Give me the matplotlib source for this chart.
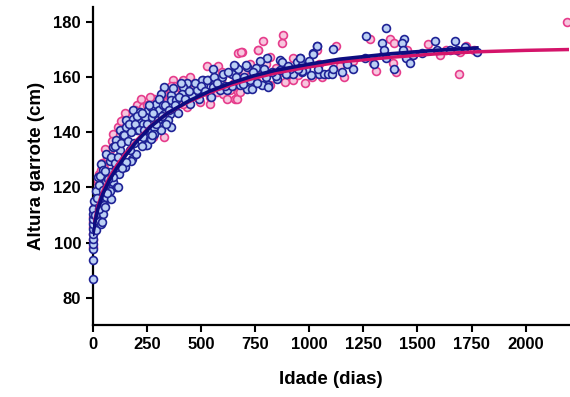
import matplotlib.pyplot as plt

plt.rcParams['font.family'] = ['Liberation Sans', 'DejaVu Sans']
plt.rcParams['font.weight'] = 'bold'

# ---------------- DATA ----------------
# group 1 (blue)
blue_days = [0, 0, 0, 0, 0, 0, 0, 0, 0, 0, 0,
             14, 22, 38, 45, 30, 22, 53, 38, 61, 30, 69, 92, 108, 84, 53,
             41, 56, 80, 95, 119, 111, 150, 182, 197, 244,
             186, 217, 256, 288, 311, 358, 155, 186, 210, 241, 272, 296, 327, 358,
             124, 155, 202, 233, 249, 296, 233, 264, 249, 108, 139, 92, 124, 170,
             178, 155, 61, 77, 38, 45, 77, 108, 22, 61, 92, 30, 116, 14,
             658, 672, 712, 642, 596, 511, 534, 511, 433, 418, 410, 330, 315, 362,
             588, 619, 642, 680, 479, 557, 268, 291, 362, 385, 449, 457, 307, 330,
             299, 346, 362, 315, 283, 283, 268,
             804, 654, 554, 600, 503, 526, 809, 781, 850, 866,
             1038, 1017, 1109, 773, 708, 754, 955, 943, 1001, 986, 896, 924, 965,
             1047, 1066, 1085, 1103, 1112, 740, 801, 847, 696, 727, 811, 714, 735,
             692, 866, 912, 965,
             1357, 1264, 1336, 1440, 1429, 1580, 1673, 1344, 1434, 1035, 1357,
             1448, 1464, 1202, 1393, 1016, 958, 893, 965, 874, 1776, 1590, 1683,
             5, 10, 18, 26, 35, 48, 58, 66, 72, 85, 100, 102, 114, 130, 135, 145,
             160, 165, 175, 190, 195, 205, 215, 225, 228, 238, 252, 260, 275, 280,
             290, 305, 318, 322, 335, 340, 350, 370, 378, 392, 400, 408, 425, 445,
             470, 490, 500, 520, 548, 560, 575, 610, 625, 660, 700, 760, 790, 830,
             900, 950, 1010, 1040, 1150, 1175, 1260, 1300, 1480, 1520, 1650, 1720]
blue_height = [86.8, 93.8, 97.7, 99.5, 101.3, 103.2, 105.0, 106.8, 108.6, 110.4, 112.3,
               104.4, 108.0, 106.8, 110.4, 112.3, 114.7, 113.5, 117.1, 116.5, 118.9, 120.1, 120.7, 120.1, 115.9, 121.3,
               107.4, 112.8, 118.9, 121.9, 125.0, 120.1, 127.4, 130.4, 132.3, 135.3,
               148.0, 147.4, 148.3, 149.2, 149.2, 150.4, 144.4, 145.0, 144.4, 145.6, 145.6, 146.2, 145.0, 146.8,
               140.7, 141.9, 140.7, 143.2, 140.7, 141.9, 138.3, 137.7, 135.3, 137.1, 138.9, 134.7, 133.5, 133.5,
               129.8, 129.2, 132.3, 129.8, 128.6, 126.2, 125.6, 127.4, 123.8, 122.5, 123.8, 120.7, 120.1, 118.9,
               164.0, 163.2, 163.8, 161.3, 160.1, 158.9, 158.9, 157.1, 157.9, 156.5, 154.1, 156.5, 154.1, 153.5,
               155.3, 155.3, 156.7, 157.1, 155.3, 156.5, 149.2, 150.4, 151.6, 151.6, 150.4, 153.1, 148.0, 146.8,
               144.4, 144.4, 141.9, 140.7, 141.9, 139.5, 137.7,
               167.2, 164.4, 163.2, 161.1, 158.9, 158.9, 157.1, 157.1, 159.5, 166.2,
               171.3, 168.8, 170.2, 165.9, 164.4, 163.5, 167.2, 165.6, 165.9, 163.2, 161.3, 161.3, 161.9,
               161.3, 161.3, 161.3, 161.3, 163.2, 161.9, 160.1, 160.4, 158.9, 159.2, 156.5, 155.9, 155.9,
               157.5, 162.8, 163.2, 164.4,
               178.1, 175.2, 172.3, 174.1, 172.3, 173.1, 173.1, 169.8, 169.8, 171.3, 167.2,
               167.2, 165.2, 163.2, 163.2, 168.6, 167.2, 161.1, 162.2, 165.6, 169.2, 170.1, 170.1,
               115.0, 110.0, 116.0, 121.0, 124.0, 119.0, 126.0, 118.0, 123.0, 131.0, 129.0, 135.0, 131.0, 136.0, 127.0, 139.0,
               137.0, 143.0, 140.0, 136.0, 143.0, 146.0, 141.0, 135.0, 147.0, 141.0, 143.0, 150.0, 139.0, 147.0,
               143.0, 152.0, 146.0, 150.0, 150.0, 143.0, 148.0, 156.0, 150.0, 147.0, 153.0, 158.0, 152.0, 155.0,
               158.0, 152.0, 157.0, 155.0, 153.0, 160.0, 158.0, 157.0, 162.0, 160.0, 160.0, 158.0, 163.0, 162.0,
               164.0, 163.0, 161.0, 163.0, 162.0, 165.0, 167.0, 165.0, 168.0, 169.0, 170.0, 171.0]

# group 2 (pink)
pink_days = [0, 0, 0, 0, 0, 0, 6, 25, 33, 64, 80, 30, 38, 69,
             202, 233, 256, 303, 343, 139, 186, 92, 116, 170, 241, 280, 327,
             526, 580, 596, 369, 374, 418, 464, 464, 672, 672, 658, 330, 322, 385,
             346, 418, 487, 572, 602, 634, 283, 330, 433, 495, 541, 541, 418, 268, 376,
             672, 688, 762, 634, 818, 885, 665,
             786, 765, 683, 847, 819, 788, 727, 1047, 696, 757, 680,
             880, 874, 1279, 1372, 1390, 1125, 1035, 924, 1140, 1295, 1310, 1387, 1403,
             1480, 1606, 1691, 1726, 1012, 1159, 888, 927, 1058, 1634, 1699, 2192,
             8, 15, 20, 42, 50, 55, 88, 100, 125, 130, 150, 160, 195, 215, 222, 250,
             262, 290, 310, 355, 362, 395, 410, 450, 480, 515, 560, 590, 620, 650,
             700, 720, 745, 800, 860, 950, 980, 1100, 1200, 1340, 1450, 1550, 1760]
pink_height = [98.3, 100.8, 103.0, 105.6, 107.5, 109.3, 111.6, 117.1, 125.0, 131.0, 133.5, 125.0, 126.2, 133.5,
               149.8, 149.2, 146.8, 151.0, 150.4, 144.4, 146.8, 139.5, 141.9, 146.8, 139.5, 138.3, 138.3,
               164.0, 164.0, 161.9, 158.9, 156.7, 159.2, 157.7, 155.9, 156.5, 154.7, 152.3, 155.9, 154.1, 154.1,
               151.6, 154.1, 154.1, 154.7, 154.1, 155.3, 152.3, 149.2, 149.2, 151.0, 150.4, 152.8, 150.4, 145.6, 148.6,
               168.8, 169.2, 170.1, 161.6, 167.5, 161.9, 152.3,
               173.1, 170.1, 169.2, 163.5, 157.1, 161.6, 165.0, 165.0, 161.3, 158.3, 154.7,
               175.3, 172.3, 174.1, 174.1, 172.3, 171.3, 170.1, 167.2, 164.1, 165.2, 162.2, 165.2, 161.9,
               168.0, 168.0, 161.1, 171.3, 160.1, 160.1, 158.3, 159.2, 160.1, 170.1, 169.2, 180.1,
               114.0, 120.0, 123.0, 129.0, 127.0, 134.0, 137.0, 135.0, 139.0, 144.0, 147.0, 141.0, 148.0, 146.0, 152.0, 150.0,
               153.0, 149.0, 145.0, 153.0, 157.0, 151.0, 155.0, 160.0, 153.0, 155.0, 158.0, 159.0, 152.0, 158.0,
               162.0, 157.0, 162.0, 165.0, 162.0, 161.0, 158.0, 162.0, 166.0, 168.0, 170.0, 172.0, 170.0]

# fitted curves
blue_fit_days = [0, 10, 22, 45, 75, 110, 150, 200, 265, 345, 445, 540, 640, 740,
                 840, 985, 1140, 1380, 1580, 1775]
blue_fit = [103.0, 107.5, 112.0, 117.5, 122.5, 127.0, 131.5, 136.5, 142.0, 147.0,
            151.5, 155.0, 158.0, 160.5, 162.5, 164.6, 166.6, 168.6, 169.8, 170.7]
pink_fit_days = [0, 10, 22, 45, 75, 110, 150, 200, 265, 345, 445, 540, 640, 740,
                 840, 985, 1140, 1380, 1580, 1780, 2000, 2195]
pink_fit = [104.0, 108.5, 113.0, 118.5, 123.5, 128.0, 132.3, 137.0, 142.2, 147.0,
            151.2, 154.5, 157.3, 159.6, 161.5, 163.6, 165.6, 167.3, 168.5, 169.3, 169.8, 170.1]

x_ticks = [0, 250, 500, 750, 1000, 1250, 1500, 1750, 2000]
y_ticks = [80, 100, 120, 140, 160, 180]

# ---------------- PLOT ----------------
fig = plt.figure(figsize=(5.7, 3.97), dpi=100)
ax = fig.add_axes([0.163, 0.181, 0.835, 0.801])

ax.scatter(pink_days, pink_height, s=32, facecolor='#f7c6de', edgecolor='#e63d8c',
           linewidth=1.2, zorder=2, clip_on=False)
ax.scatter(blue_days, blue_height, s=32, facecolor='#bcd0f4', edgecolor='#1f2396',
           linewidth=1.2, zorder=3, clip_on=False)
ax.plot(pink_fit_days, pink_fit, color='#d4146a', linewidth=2.5, zorder=4)
ax.plot(blue_fit_days, blue_fit, color='#0d0d80', linewidth=2.6, zorder=5)

ax.set_xlim(0, 2200)
ax.set_ylim(70, 185.5)
ax.set_xticks(x_ticks)
ax.set_yticks(y_ticks)

for side in ['top', 'right']:
    ax.spines[side].set_visible(False)
for side in ['left', 'bottom']:
    ax.spines[side].set_linewidth(1.6)
ax.tick_params(width=1.5, length=5, labelsize=12)

ax.set_xlabel('Idade (dias)', fontsize=13.5, fontweight='bold', labelpad=14)
ax.set_ylabel('Altura garrote (cm)', fontsize=13.5, fontweight='bold', labelpad=6)

fig.savefig('out.png', dpi=100)
